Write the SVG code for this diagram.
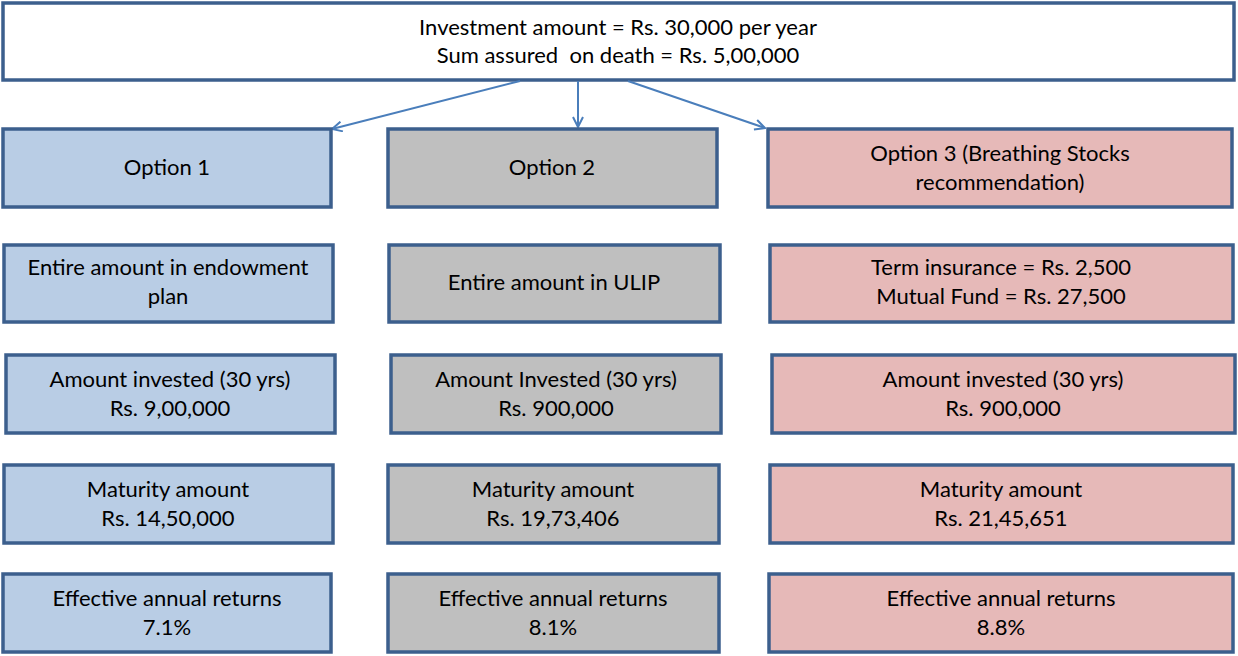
<svg xmlns="http://www.w3.org/2000/svg" width="1238" height="656" viewBox="0 0 1238 656">
<style>
.box{stroke:#3c5f8d;stroke-width:3.5}
.b{fill:#b9cde5}.g{fill:#bfbfbf}.p{fill:#e6b9b8}.w{fill:#ffffff}
text{font-family:Lato,"Open Sans","Liberation Sans",sans-serif;font-size:22px;fill:#000;text-anchor:middle}
.c{stroke:#4a7ebb;stroke-width:2;fill:none}
</style>
<defs>
<marker id="ah" viewBox="0 0 12 12" refX="11" refY="6" markerWidth="12" markerHeight="12" markerUnits="userSpaceOnUse" orient="auto">
<path d="M1,1 L11,6 L1,11" fill="none" stroke="#4a7ebb" stroke-width="2"/>
</marker>
</defs>
<g id="top"><rect class="box w" x="3" y="3" width="1231" height="77"/>
<text x="618" y="35">Investment amount = Rs. 30,000 per year</text>
<text x="618" y="63" style="white-space:pre">Sum assured  on death = Rs. 5,00,000</text></g>
<g id="connectors">
<line class="c" x1="520" y1="81" x2="332" y2="129" marker-end="url(#ah)"/>
<line class="c" x1="578" y1="81" x2="578" y2="127" marker-end="url(#ah)"/>
<line class="c" x1="628" y1="81" x2="765" y2="128" marker-end="url(#ah)"/>
</g>
<g id="opt1"><rect class="box b" x="3" y="129" width="328" height="78"/><text x="167" y="175">Option 1</text></g>
<g id="opt2"><rect class="box g" x="388" y="129" width="329" height="78"/><text x="552" y="175">Option 2</text></g>
<g id="opt3"><rect class="box p" x="768" y="129" width="464" height="78"/><text x="1000" y="161">Option 3 (Breathing Stocks</text><text x="1000" y="190">recommendation)</text></g>
<g id="r2c1"><rect class="box b" x="4" y="245" width="329" height="77"/><text x="168" y="275">Entire amount in endowment</text><text x="168" y="304">plan</text></g>
<g id="r2c2"><rect class="box g" x="389" y="245" width="331" height="77"/><text x="554" y="290">Entire amount in ULIP</text></g>
<g id="r2c3"><rect class="box p" x="770" y="245" width="463" height="77"/><text x="1001" y="275">Term insurance = Rs. 2,500</text><text x="1001" y="304">Mutual Fund = Rs. 27,500</text></g>
<g id="r3c1"><rect class="box b" x="6" y="355" width="329" height="78"/><text x="170" y="387">Amount invested (30 yrs)</text><text x="170" y="416">Rs. 9,00,000</text></g>
<g id="r3c2"><rect class="box g" x="391" y="355" width="330" height="78"/><text x="556" y="387">Amount Invested (30 yrs)</text><text x="556" y="416">Rs. 900,000</text></g>
<g id="r3c3"><rect class="box p" x="772" y="355" width="463" height="78"/><text x="1003" y="387">Amount invested (30 yrs)</text><text x="1003" y="416">Rs. 900,000</text></g>
<g id="r4c1"><rect class="box b" x="4" y="465" width="329" height="78"/><text x="168" y="497">Maturity amount</text><text x="168" y="526">Rs. 14,50,000</text></g>
<g id="r4c2"><rect class="box g" x="388" y="465" width="331" height="78"/><text x="553" y="497">Maturity amount</text><text x="553" y="526">Rs. 19,73,406</text></g>
<g id="r4c3"><rect class="box p" x="770" y="465" width="463" height="78"/><text x="1001" y="497">Maturity amount</text><text x="1001" y="526">Rs. 21,45,651</text></g>
<g id="r5c1"><rect class="box b" x="3" y="574" width="328" height="78"/><text x="167" y="606">Effective annual returns</text><text x="167" y="635">7.1%</text></g>
<g id="r5c2"><rect class="box g" x="388" y="574" width="331" height="78"/><text x="553" y="606">Effective annual returns</text><text x="553" y="635">8.1%</text></g>
<g id="r5c3"><rect class="box p" x="769" y="574" width="464" height="78"/><text x="1001" y="606">Effective annual returns</text><text x="1001" y="635">8.8%</text></g>
</svg>
